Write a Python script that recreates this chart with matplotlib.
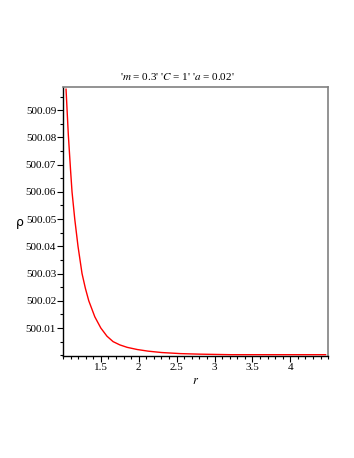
"""Density profile rho(r) for m = 0.3, C = 1, a = 0.02."""
import matplotlib

matplotlib.use("Agg")
import matplotlib.pyplot as plt
from matplotlib.ticker import FormatStrFormatter, MultipleLocator

# values
r_vals = [1.040, 1.070, 1.100, 1.119, 1.155, 1.198, 1.251, 1.295, 1.340,
          1.420, 1.499, 1.580, 1.661, 1.750, 1.847, 1.980, 2.124, 2.300,
          2.548, 2.800, 3.209, 3.870, 4.466]
rho_vals = [500.0977, 500.0810, 500.0678, 500.0600, 500.0500, 500.0400,
            500.0300, 500.0246, 500.0200, 500.0141, 500.0100, 500.0070,
            500.0050, 500.0038, 500.0029, 500.0021, 500.0015, 500.0010,
            500.0006, 500.0004, 500.0002, 500.0002, 500.0002]
x_ticks = [1.5, 2, 2.5, 3, 3.5, 4]
y_ticks = [500.01, 500.02, 500.03, 500.04, 500.05, 500.06, 500.07, 500.08, 500.09]

plt.rcParams["font.family"] = ["Liberation Serif", "DejaVu Serif"]
plt.rcParams["mathtext.fontset"] = "stix"

fig = plt.figure(figsize=(3.54, 4.58), dpi=100)
ax = fig.add_axes([0.178, 0.2227, 0.749, 0.5873])

ax.plot(r_vals, rho_vals, color="red", linewidth=1.0)

ax.set_xlim(1.0, 4.5)
ax.set_ylim(499.99972, 500.0985)
ax.set_xticks(x_ticks)
ax.set_yticks(y_ticks)
ax.xaxis.set_minor_locator(MultipleLocator(0.1))
ax.yaxis.set_minor_locator(MultipleLocator(0.005))
ax.xaxis.set_major_formatter(FormatStrFormatter("%g"))
ax.yaxis.set_major_formatter(FormatStrFormatter("%.2f"))
ax.tick_params(which="both", direction="out", top=False, right=False,
               labelsize=8, pad=1, width=0.8)
ax.tick_params(which="major", length=4)
ax.tick_params(which="minor", length=2.5)

for side in ("top", "right"):
    ax.spines[side].set_color("#808080")
    ax.spines[side].set_linewidth(1.2)
for side in ("left", "bottom"):
    ax.spines[side].set_linewidth(1.0)

ax.set_xlabel("$r$", fontsize=9, labelpad=2)
fig.text(0.056, 0.515, "ρ", fontsize=9, family="DejaVu Sans", ha="center", va="center")
fig.text(0.5, 0.822, "'$m$ = 0.3' '$C$ = 1' '$a$ = 0.02'", fontsize=8, ha="center", va="bottom")

fig.savefig("out.png", dpi=100)
